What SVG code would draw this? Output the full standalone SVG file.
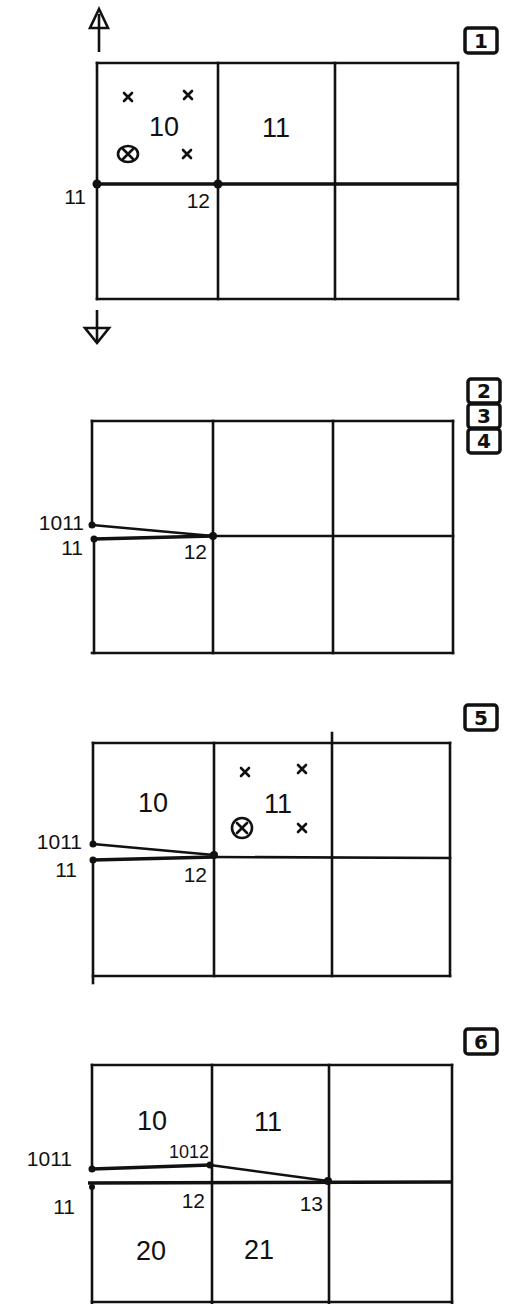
<svg xmlns="http://www.w3.org/2000/svg" width="506" height="1304" viewBox="0 0 506 1304">
<style>
.g{stroke:#111;stroke-width:2.6;fill:none;stroke-linecap:square}
.m{stroke:#111;stroke-width:3.4;fill:none}
.c{stroke:#111;stroke-width:2.6;fill:none}
.d{fill:#111}
.t{font-family:"Liberation Sans",Arial,sans-serif;fill:#111}
.big{font-size:27px}
.sm{font-size:21px}
.xs{font-size:18px}
.x{stroke:#111;stroke-width:2.6;fill:none;stroke-linecap:round}
.bx{stroke:#111;stroke-width:3.5;fill:#fff}
.bn{font-family:"DejaVu Sans",sans-serif;font-weight:bold;font-size:20px;fill:#111}
</style>
<rect width="506" height="1304" fill="#fff"/>

<!-- Panel 1 -->
<g id="panel1">
  <g id="p1-grid">
    <line class="g" x1="97" y1="63" x2="458" y2="63"/>
    <line class="g" x1="97" y1="299" x2="458" y2="299"/>
    <line class="g" x1="97" y1="63" x2="97" y2="299"/>
    <line class="g" x1="218" y1="63" x2="218" y2="299"/>
    <line class="g" x1="335" y1="63" x2="335" y2="299"/>
    <line class="g" x1="458" y1="63" x2="458" y2="299"/>
    <line class="m" x1="97" y1="184" x2="458" y2="184"/>
  </g>
  <g id="p1-arrows">
    <line class="c" x1="99" y1="52" x2="99" y2="14"/>
    <polygon class="c" points="99,9 90,28 108,28"/>
    <line class="c" x1="97" y1="310" x2="97" y2="343"/>
    <polygon class="c" points="85,328 109,328 97,343"/>
  </g>
  <g id="p1-cell10">
    <text class="t big" x="164" y="136" text-anchor="middle">10</text>
    <path class="x" d="M124,93 L132,101 M132,93 L124,101"/>
    <path class="x" d="M184,91 L192,99 M192,91 L184,99"/>
    <path class="x" d="M183,150 L191,158 M191,150 L183,158"/>
    <ellipse class="c" cx="128" cy="154" rx="10" ry="8"/>
    <path class="x" d="M123,159 L133,149 M123,149 L133,159"/>
  </g>
  <g id="p1-cell11"><text class="t big" x="276" y="137" text-anchor="middle">11</text></g>
  <g id="p1-n11"><circle class="d" cx="97" cy="184" r="4.5"/><text class="t sm" x="86" y="204" text-anchor="end">11</text></g>
  <g id="p1-n12"><circle class="d" cx="218" cy="184" r="4.5"/><text class="t sm" x="210" y="208" text-anchor="end">12</text></g>
  <g id="box1"><rect class="bx" x="465" y="28" width="32" height="25" rx="3"/><text class="bn" x="481" y="48" text-anchor="middle">1</text></g>
</g>

<!-- Panel 2 -->
<g id="panel2">
  <g id="p2-grid">
    <line class="g" x1="92" y1="421" x2="453" y2="421"/>
    <line class="g" x1="92" y1="653" x2="453" y2="653"/>
    <line class="g" x1="92" y1="421" x2="92" y2="525"/>
    <line class="g" x1="94" y1="539" x2="94" y2="653"/>
    <line class="g" x1="213" y1="421" x2="213" y2="653"/>
    <line class="g" x1="333" y1="421" x2="333" y2="653"/>
    <line class="g" x1="453" y1="421" x2="453" y2="653"/>
    <line class="m" x1="94" y1="539" x2="213" y2="536"/>
    <line class="g" x1="213" y1="536" x2="453" y2="536"/>
  </g>
  <g id="p2-connectors"><line class="c" x1="92" y1="525" x2="213" y2="536"/></g>
  <g id="p2-n1011"><circle class="d" cx="92" cy="525" r="3.5"/><text class="t sm" x="84" y="530" text-anchor="end">1011</text></g>
  <g id="p2-n11"><circle class="d" cx="94" cy="539" r="3.5"/><text class="t sm" x="83" y="555" text-anchor="end">11</text></g>
  <g id="p2-n12"><circle class="d" cx="213" cy="536" r="4"/><text class="t sm" x="207" y="559" text-anchor="end">12</text></g>
  <g id="box2"><rect class="bx" x="468" y="379" width="32" height="24" rx="3"/><text class="bn" x="484" y="398" text-anchor="middle">2</text></g>
  <g id="box3"><rect class="bx" x="468" y="404" width="32" height="24" rx="3"/><text class="bn" x="484" y="423" text-anchor="middle">3</text></g>
  <g id="box4"><rect class="bx" x="468" y="429" width="32" height="24" rx="3"/><text class="bn" x="484" y="448" text-anchor="middle">4</text></g>
</g>

<!-- Panel 5 -->
<g id="panel5">
  <g id="p5-grid">
    <line class="g" x1="93" y1="743" x2="450" y2="743"/>
    <line class="g" x1="93" y1="976" x2="450" y2="976"/>
    <line class="g" x1="93" y1="743" x2="93" y2="844"/>
    <line class="g" x1="93" y1="860" x2="93" y2="983"/>
    <line class="g" x1="214" y1="743" x2="214" y2="976"/>
    <line class="g" x1="332" y1="733" x2="332" y2="976"/>
    <line class="g" x1="450" y1="743" x2="450" y2="976"/>
    <line class="m" x1="93" y1="860" x2="214" y2="857"/>
    <line class="g" x1="214" y1="857" x2="450" y2="858"/>
  </g>
  <g id="p5-connectors"><line class="c" x1="93" y1="844" x2="214" y2="855"/></g>
  <g id="p5-cell10"><text class="t big" x="153" y="812" text-anchor="middle">10</text></g>
  <g id="p5-cell11">
    <text class="t big" x="278" y="813" text-anchor="middle">11</text>
    <path class="x" d="M241,768 L249,776 M249,768 L241,776"/>
    <path class="x" d="M298,765 L306,773 M306,765 L298,773"/>
    <path class="x" d="M298,824 L306,832 M306,824 L298,832"/>
    <circle class="c" cx="242" cy="828" r="10"/>
    <path class="x" d="M237,823 L247,833 M247,823 L237,833"/>
  </g>
  <g id="p5-n1011"><circle class="d" cx="93" cy="844" r="3.5"/><text class="t sm" x="82" y="849" text-anchor="end">1011</text></g>
  <g id="p5-n11"><circle class="d" cx="93" cy="860" r="3.5"/><text class="t sm" x="77" y="877" text-anchor="end">11</text></g>
  <g id="p5-n12"><circle class="d" cx="214" cy="855" r="4"/><text class="t sm" x="207" y="882" text-anchor="end">12</text></g>
  <g id="box5"><rect class="bx" x="465" y="705" width="32" height="25" rx="3"/><text class="bn" x="481" y="725" text-anchor="middle">5</text></g>
</g>

<!-- Panel 6 -->
<g id="panel6">
  <g id="p6-grid">
    <line class="g" x1="92" y1="1065" x2="452" y2="1065"/>
    <line class="g" x1="92" y1="1302" x2="452" y2="1302"/>
    <line class="g" x1="92" y1="1065" x2="92" y2="1169"/>
    <line class="g" x1="92" y1="1187" x2="92" y2="1304"/>
    <line class="g" x1="212" y1="1065" x2="212" y2="1304"/>
    <line class="g" x1="329" y1="1065" x2="329" y2="1304"/>
    <line class="g" x1="452" y1="1065" x2="452" y2="1304"/>
    <line class="m" x1="88" y1="1183" x2="452" y2="1182"/>
  </g>
  <g id="p6-connectors">
    <polyline class="m" points="92,1169 210,1165"/>
    <line class="c" x1="210" y1="1165" x2="328" y2="1181"/>
  </g>
  <g id="p6-cell10"><text class="t big" x="152" y="1130" text-anchor="middle">10</text></g>
  <g id="p6-cell11"><text class="t big" x="268" y="1131" text-anchor="middle">11</text></g>
  <g id="p6-cell20"><text class="t big" x="151" y="1260" text-anchor="middle">20</text></g>
  <g id="p6-cell21"><text class="t big" x="259" y="1259" text-anchor="middle">21</text></g>
  <g id="p6-n1011"><circle class="d" cx="92" cy="1169" r="3.5"/><text class="t sm" x="72" y="1166" text-anchor="end">1011</text></g>
  <g id="p6-n1012"><circle class="d" cx="210" cy="1165" r="3.5"/><text class="t xs" x="209" y="1158" text-anchor="end">1012</text></g>
  <g id="p6-n13"><circle class="d" cx="328" cy="1181" r="4"/><text class="t sm" x="323" y="1211" text-anchor="end">13</text></g>
  <g id="p6-n11"><circle class="d" cx="92" cy="1187" r="3"/><text class="t sm" x="75" y="1214" text-anchor="end">11</text></g>
  <g id="p6-n12"><text class="t sm" x="205" y="1208" text-anchor="end">12</text></g>
  <g id="box6"><rect class="bx" x="465" y="1029" width="32" height="25" rx="3"/><text class="bn" x="481" y="1049" text-anchor="middle">6</text></g>
</g>
</svg>
